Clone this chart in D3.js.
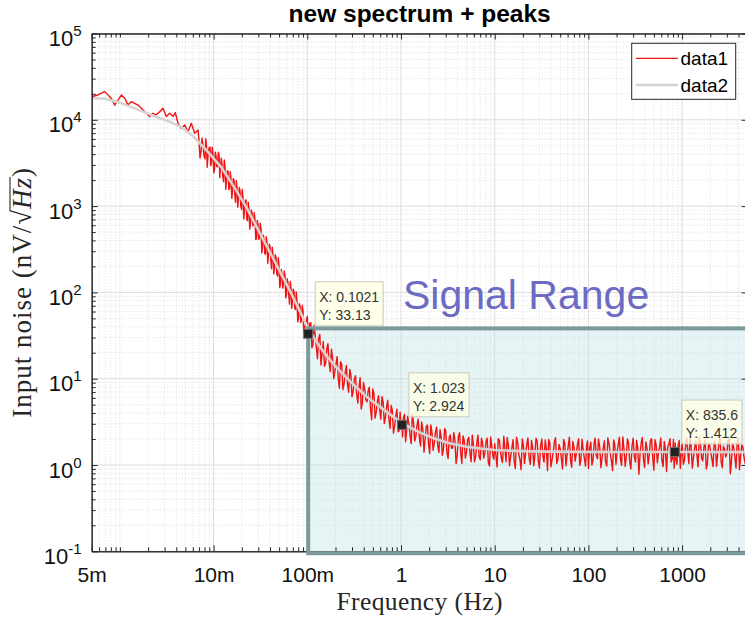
<!DOCTYPE html>
<html><head><meta charset="utf-8">
<script src="https://cdn.jsdelivr.net/npm/d3@7"></script>
<style>body{margin:0;background:#fff;}svg{display:block;}</style>
</head><body>
<svg id="chart" width="745" height="618"></svg>
<script>
// ---------------- data ----------------
const titleText = 'new spectrum + peaks';
const xLabelText = 'Frequency (Hz)';
const xDomain = [0.0005, 5000];
const yDomain = [0.1, 100000];
const xTickValues = [0.0005, 0.01, 0.1, 1, 10, 100, 1000];
const xTickLabels = ['5m', '10m', '100m', '1', '10', '100', '1000'];
const yTickValues = [0.1, 1, 10, 100, 1000, 10000, 100000];
const yTickExponents = ['-1', '0', '1', '2', '3', '4', '5'];
const legendLabels = ['data1', 'data2'];

// data2: smooth fitted spectrum
const data2Freq = [0.0005, 0.0007, 0.001, 0.0015, 0.002, 0.0025, 0.0033, 0.0045, 0.006, 0.008, 0.012, 0.016, 0.022, 0.03, 0.045, 0.0665, 0.085, 0.1, 0.111, 0.125, 0.14, 0.16, 0.188, 0.22, 0.286, 0.436, 0.658, 1, 1.5, 2.2, 3.2, 5, 7, 10, 15, 25, 40, 80, 200, 1000, 5000];
const data2Val = [17900, 17500, 15800, 13300, 11800, 10700, 9600, 8300, 6500, 4700, 2850, 1760, 1000, 528, 227, 100, 58, 40, 33, 27, 22.5, 18.5, 15, 12.5, 9.3, 6.1, 4.35, 3.1, 2.45, 2.05, 1.8, 1.63, 1.55, 1.49, 1.46, 1.44, 1.43, 1.42, 1.415, 1.412, 1.41];

// data1: measured noisy spectrum, [frequency, value]
const data1Low = [[0.0005,18500],[0.00058,19400],[0.00069,21200],[0.00081,17700],[0.00088,14800],[0.00104,19400],[0.00113,17700],[0.00122,14800],[0.00132,16200],[0.00144,15500],[0.00156,14800],[0.00177,13000],[0.00191,11900],[0.00208,10900],[0.00225,11900],[0.00244,11400],[0.00266,12400],[0.00288,13600],[0.00313,10900],[0.0034,11900],[0.00369,10900],[0.0039,12100],[0.00417,9110],[0.00452,7970],[0.00492,8710],[0.00533,7280],[0.00578,9110],[0.00628,6980],[0.00682,7620]];
const data1Slope = [[0.00698,5830],[0.00734,4236],[0.00771,5105],[0.0081,3516],[0.0084,5036],[0.00871,3811],[0.00916,4842],[0.0095,3289],[0.00986,3811],[0.01023,2655],[0.01062,3811],[0.01102,2877],[0.01143,3909],[0.01186,2780],[0.0123,3050],[0.01276,1918],[0.01324,2825],[0.01374,2080],[0.01426,2545],[0.01479,1596],[0.01535,2005],[0.01592,1476],[0.01652,2005],[0.01714,1104],[0.01778,1625],[0.01845,1265],[0.01914,1504],[0.01986,918],[0.02061,1219],[0.02138,897],[0.02218,1180],[0.02301,676],[0.02388,887],[0.02477,646],[0.0257,845],[0.02667,601],[0.02767,689],[0.02871,416],[0.02979,607],[0.0309,430],[0.03206,548],[0.03327,341],[0.03451,412],[0.03581,277],[0.03715,384],[0.03855,279],[0.04,337],[0.0415,188],[0.04305,268],[0.04467,195],[0.04634,255],[0.04808,155],[0.04989,202],[0.05176,125],[0.0537,165],[0.05572,126],[0.05781,157],[0.05998,94.8],[0.06223,128],[0.06457,73.1],[0.06699,112],[0.0695,82.1],[0.07211,102],[0.07482,63.2],[0.07762,78.5],[0.08054,50.1],[0.08356,71.1],[0.0867,49.1],[0.08995,62.7],[0.09333,37.9]];
const data1SlopeMid = [[0.00716,3610],[0.00752,6150],[0.0079,3810],[0.00825,6030],[0.00855,2820],[0.00893,4710],[0.00933,2940],[0.00968,4810],[0.01005,2430],[0.01042,4210],[0.01081,2860],[0.01122,4210],[0.01164,2130],[0.01208,3600],[0.01253,2200],[0.013,3420],[0.01349,1560],[0.014,2560],[0.01452,1560],[0.01507,2500],[0.01563,1230],[0.01622,2080],[0.01683,1370],[0.01746,1970],[0.01811,973],[0.01879,1640],[0.0195,1000],[0.02023,1560],[0.02099,710],[0.02178,1160],[0.0226,703],[0.02344,1110],[0.02432,541],[0.02523,904],[0.02618,591],[0.02716,839],[0.02818,410],[0.02924,683],[0.03034,412],[0.03148,635],[0.03266,286],[0.03388,464],[0.03516,281],[0.03648,443],[0.03784,216],[0.03926,361],[0.04074,236],[0.04227,335],[0.04385,164],[0.0455,273],[0.04721,165],[0.04898,253],[0.05082,114],[0.05272,185],[0.0547,112],[0.05675,177],[0.05888,86.3],[0.06109,144],[0.06339,94.3],[0.06577,134],[0.06823,65.3],[0.07079,109],[0.07345,65.8],[0.07621,101],[0.07907,45.6],[0.08204,74],[0.08511,44.7],[0.08831,70.5],[0.09162,34.5]];
const data1Knee = [[0.1,52.8],[0.1021,33.13],[0.106,43.8],[0.112,22.8],[0.118,41.7],[0.125,22.7],[0.132,29.1],[0.14,14.4],[0.148,26.9],[0.157,15.2],[0.166,25.5],[0.176,12.1],[0.186,17.5],[0.197,12.2],[0.208,18],[0.22,7.75],[0.233,14.6],[0.247,8.69],[0.261,14.2],[0.276,6.96],[0.292,10.9],[0.309,7.15],[0.327,10.8],[0.346,5.23],[0.366,10.3],[0.387,5.29],[0.41,7.59],[0.434,5.39],[0.459,7.96],[0.486,3.35],[0.514,6.77],[0.544,4.12],[0.576,6.35],[0.609,3.39],[0.645,5.35],[0.682,3.59],[0.722,5.62],[0.764,2.66],[0.808,4.27],[0.855,2.82],[0.905,4.44],[0.957,2.5],
 [1,2.6],[1.023,2.924],[1.06,3.54],[1.12,1.86],[1.18,3.67],[1.25,2.18],[1.32,3.83],[1.4,1.89],[1.48,2.84],[1.57,2.06],[1.66,3.16],[1.76,1.41],[1.86,2.78],[1.97,1.71],[2.08,2.91],[2.2,1.48],[2.33,2.41],[2.47,1.64],[2.61,2.57],[2.76,1.29],[2.92,2.64],[3.09,1.4],[3.27,2.09],[3.46,1.56],[3.66,2.38],[3.87,1.04],[4.1,2.16],[4.34,1.36],[4.59,2.17],[4.86,1.2],[5.14,1.96],[5.44,1.37],[5.76,2.22],[6.09,1.09],[6.45,1.82],[6.82,1.24],[7.22,2.04],[7.64,1.2],[8.08,1.87],[8.55,1.06],[9.05,2.11],[9.57,1.26]];
const data1KneeMid = [[0.104,28.5],[0.109,44.6],[0.115,24.8],[0.1215,31.7],[0.1285,17],[0.136,32.6],[0.144,19.9],[0.1525,13.9],[0.1615,22.3],[0.171,15.2],[0.181,22],[0.1915,10],[0.2025,15.1],[0.214,10.1],[0.2265,15.7],[0.24,7.49],[0.254,11.9],[0.2685,8.78],[0.284,12.8],[0.3,6.2],[0.318,10],[0.336,6.72],[0.356,7.84],[0.376,4.45],[0.398,9.02],[0.422,5.67],[0.446,7.19],[0.472,4.57],[0.5,7.63],[0.529,3.49],[0.56,5.47],[0.592,4.36],[0.627,6.21],[0.663,3.03],[0.702,4.75],[0.743,3.4],[0.786,4.89],[0.831,2.34],[0.88,3.72],[0.931,2.43],[0.978,4.1],
 [1.04,2.12],[1.09,3.84],[1.15,2.57],[1.215,2.99],[1.285,1.77],[1.36,3.12],[1.44,2.13],[1.525,3.4],[1.615,1.66],[1.71,2.58],[1.81,2.03],[1.915,2.91],[2.025,1.36],[2.14,2.39],[2.265,1.79],[2.4,2.75],[2.54,1.4],[2.685,2.1],[2.84,1.54],[3,2.5],[3.18,1.19],[3.36,2.23],[3.56,1.58],[3.76,1.95],[3.98,1.29],[4.22,2.37],[4.46,1.04],[4.72,1.95],[5,1.42],[5.29,2.1],[5.6,1.09],[5.92,1.72],[6.27,1.26],[6.63,2.22],[7.02,1.15],[7.43,1.79],[7.86,1.38],[8.31,2.04],[8.8,0.97],[9.31,1.66],[9.78,1.17]];
const data1Flat = [[10,1.76],[10.6,0.95],[11.2,1.94],[11.8,1.18],[12.5,2.15],[13.2,1.09],[14,1.69],[14.8,1.26],[15.7,1.97],[16.6,0.91],[17.6,1.82],[18.6,1.15],[19.7,2.0],[20.8,1.04],[22,1.73],[23.3,1.2],[24.7,1.92],[26.1,0.98],[27.6,2.04],[29.2,1.11],[30.9,1.68],[32.7,1.26],[34.6,1.95],[36.6,0.86],[38.7,1.82],[41,1.16],[43.4,1.87],[45.9,1.04],[48.6,1.73],[51.4,1.21],[54.4,1.98],[57.6,0.98],[60.9,1.65],[64.5,1.14],[68.2,1.87],[72.2,1.11],[76.4,1.73],[80.8,0.99],[85.5,1.99],[90.5,1.19],[95.7,1.68],
 [100,0.91],[106,1.84],[112,1.13],[118,2.05],[125,1.18],[132,1.63],[140,1.22],[148,1.91],[157,0.97],[166,1.77],[176,1.12],[186,1.95],[197,1.02],[208,1.7],[220,1.17],[233,2.12],[247,0.96],[261,2.01],[276,1.09],[292,1.66],[309,1.25],[327,1.92],[346,0.78],[366,1.8],[387,1.15],[410,1.85],[434,1.03],[459,1.93],[486,1.2],[514,1.97],[544,1.06],[576,1.64],[609,1.13],[645,1.87],[682,0.84],[722,1.73],[764,1.08],[808,1.98],[835.6,1.412],[855,1.19],[905,1.67],[957,0.91],
 [1000,1.83],[1060,1.13],[1120,2.04],[1180,1.04],[1250,1.62],[1320,1.21],[1400,1.9],[1480,0.95],[1570,1.76],[1660,1.11],[1760,1.95],[1860,1.02],[1970,1.69],[2080,1.17],[2200,1.88],[2330,0.96],[2470,1.79],[2610,1.09],[2760,1.65],[2920,1.24],[3090,1.92],[3270,0.79],[3460,1.79],[3660,1.22],[3870,1.85],[4100,0.88],[4340,1.71],[4590,1.2],[4860,1.96],[5000,1.13]];
const data1FlatMid = [[10.3,1.28],[10.9,2.02],[11.5,1.5],[12.1,1.07],[12.8,1.66],[13.6,2.08],[14.4,0.98],[15.2,1.55],[16.1,1.12],[17.1,2.1],[18.1,1.32],[19.1,0.88],[20.2,1.71],[21.4,1.38],[22.6,2.06],[24,1.02],[25.4,1.6],[26.8,1.29],[28.4,1.9],[30,0.92],[31.8,2.0],[33.6,1.08],[35.6,1.52],[37.6,1.98],[39.8,0.95],[42.2,1.42],[44.6,2.07],[47.2,1.15],[50,1.55],[52.9,0.9],[56,1.77],[59.2,1.3],[62.7,2.1],[66.3,0.94],[70.2,1.6],[74.3,1.36],[78.6,2.02],[83.1,1.13],[88,1.48],[93.1,0.97],[97.8,1.9],
 [103,1.55],[109,1.0],[115,1.78],[121,1.3],[128,2.0],[136,0.93],[144,1.58],[152,1.1],[161,2.06],[171,1.36],[181,0.86],[191,1.72],[202,1.41],[214,2.1],[226,0.99],[240,1.5],[254,1.28],[268,1.8],[284,0.9],[300,2.04],[318,1.08],[336,1.6],[356,1.35],[376,2.08],[398,0.94],[422,1.56],[446,1.3],[472,2.02],[500,0.87],[529,1.7],[560,1.4],[592,2.06],[627,0.96],[663,1.52],[702,1.62],[743,2.02],[786,1.18],[822,0.92],[845,1.8],[880,1.02],[931,1.92],[978,1.34],
 [1030,1.02],[1090,1.68],[1150,1.4],[1215,2.06],[1285,0.92],[1360,1.56],[1440,1.3],[1525,2.08],[1615,1.2],[1710,1.62],[1810,0.9],[1915,1.8],[2025,1.38],[2140,0.96],[2265,1.74],[2400,1.33],[2540,2.06],[2685,0.93],[2840,1.52],[3000,1.36],[3180,2.0],[3360,1.1],[3560,1.58],[3760,0.92],[3980,2.04],[4220,1.3],[4460,1.6],[4720,1.04],[4930,1.7]];

// data tips
const tipFreq = [0.1021, 1.023, 835.6];
const tipVal = [33.13, 2.924, 1.412];

// highlighted signal range (x from, x to, y from, y to)
const signalRangeX = [0.1021, 5000];
const signalRangeY = [0.095, 38.3];
const signalRangeLabel = 'Signal Range';

// ---------------- drawing ----------------
const svg = d3.select('#chart');
const plotLeft = 91.7, plotRight = 747.6, plotTop = 33.5, plotBottom = 551.3;
const x = d3.scaleLog().domain(xDomain).range([plotLeft, plotRight]);
const y = d3.scaleLog().domain(yDomain).range([plotBottom, plotTop]);
const sans = '"Liberation Sans", Arial, Helvetica, sans-serif';
const serif = '"Liberation Serif", "Times New Roman", serif';
const axisColor = '#262626';

function minorTicks(domain, majors) {
  const out = [];
  const e0 = Math.floor(Math.log10(domain[0])), e1 = Math.ceil(Math.log10(domain[1]));
  for (let e = e0; e <= e1; e++) {
    for (let m = 1; m <= 9; m++) {
      const v = m * Math.pow(10, e);
      if (v < domain[0] * 0.9999 || v > domain[1] * 1.0001) continue;
      if (majors.some(t => Math.abs(t - v) / v < 1e-6)) continue;
      out.push(v);
    }
  }
  return out;
}
const xMinor = minorTicks(xDomain, xTickValues);
const yMinor = minorTicks(yDomain, yTickValues);

svg.append('rect').attr('width', 745).attr('height', 618).attr('fill', '#fff');

// grid
const grid = svg.append('g');
grid.selectAll('line.xm').data(xMinor).join('line')
  .attr('x1', d => x(d)).attr('x2', d => x(d)).attr('y1', plotTop).attr('y2', plotBottom)
  .attr('stroke', '#d4d4d4').attr('stroke-width', 0.8).attr('stroke-dasharray', '1,2');
grid.selectAll('line.ym').data(yMinor).join('line')
  .attr('y1', d => y(d)).attr('y2', d => y(d)).attr('x1', plotLeft).attr('x2', plotRight)
  .attr('stroke', '#d4d4d4').attr('stroke-width', 0.8).attr('stroke-dasharray', '1,2');
grid.selectAll('line.xM').data(xTickValues).join('line')
  .attr('x1', d => x(d)).attr('x2', d => x(d)).attr('y1', plotTop).attr('y2', plotBottom)
  .attr('stroke', '#dcdcdc').attr('stroke-width', 1);
grid.selectAll('line.yM').data(yTickValues).join('line')
  .attr('y1', d => y(d)).attr('y2', d => y(d)).attr('x1', plotLeft).attr('x2', plotRight)
  .attr('stroke', '#dcdcdc').attr('stroke-width', 1);

// signal range fill
const rx0 = x(signalRangeX[0]), rx1 = x(signalRangeX[1]);
const ry0 = y(signalRangeY[1]), ry1 = y(signalRangeY[0]);
svg.append('rect').attr('x', rx0).attr('y', ry0).attr('width', rx1 - rx0).attr('height', ry1 - ry0)
  .attr('fill', '#c5e4ea').attr('fill-opacity', 0.42);

// clip
svg.append('clipPath').attr('id', 'clip').append('rect')
  .attr('x', plotLeft).attr('y', plotTop).attr('width', plotRight - plotLeft).attr('height', plotBottom - plotTop);

const data1 = d3.sort(data1Low.concat(data1Slope, data1SlopeMid, data1Knee, data1KneeMid, data1Flat, data1FlatMid), d => d[0]);
const data2 = data2Freq.map((f, i) => [f, data2Val[i]]);
const line = d3.line().x(d => x(d[0])).y(d => y(d[1]));
const plot = svg.append('g').attr('clip-path', 'url(#clip)');
plot.append('path').attr('d', line(data1)).attr('fill', 'none').attr('stroke', '#f01414').attr('stroke-width', 1.4).attr('stroke-linejoin', 'round');
plot.append('path').attr('d', line(data2)).attr('fill', 'none').attr('stroke', '#d8d2d2').attr('stroke-width', 2.6);

// axes
function styleAxis(g) {
  g.attr('color', axisColor).attr('font-family', sans);
  g.select('.domain').attr('stroke-width', 1);
}
svg.append('g').attr('transform', `translate(0,${plotBottom})`)
  .call(d3.axisBottom(x).tickValues(xMinor).tickFormat('').tickSizeInner(-4).tickSizeOuter(0)).call(styleAxis);
const xAxis = svg.append('g').attr('transform', `translate(0,${plotBottom})`)
  .call(d3.axisBottom(x).tickValues(xTickValues).tickFormat((d, i) => xTickLabels[i]).tickSizeInner(-6).tickSizeOuter(0).tickPadding(16))
  .call(styleAxis);
xAxis.selectAll('.tick text').attr('font-size', 21).attr('fill', '#111');
svg.append('g').attr('transform', `translate(0,${plotTop})`)
  .call(d3.axisTop(x).tickValues(xMinor).tickFormat('').tickSizeInner(-4).tickSizeOuter(0)).call(styleAxis);
svg.append('g').attr('transform', `translate(0,${plotTop})`)
  .call(d3.axisTop(x).tickValues(xTickValues).tickFormat('').tickSizeInner(-6).tickSizeOuter(0)).call(styleAxis);
svg.append('g').attr('transform', `translate(${plotLeft},0)`)
  .call(d3.axisLeft(y).tickValues(yMinor).tickFormat('').tickSizeInner(-4).tickSizeOuter(0)).call(styleAxis);
const yAxis = svg.append('g').attr('transform', `translate(${plotLeft},0)`)
  .call(d3.axisLeft(y).tickValues(yTickValues).tickFormat('').tickSizeInner(-6).tickSizeOuter(0).tickPadding(10))
  .call(styleAxis);
yAxis.selectAll('.tick text').each(function (d, i) {
  const t = d3.select(this);
  t.text(null).attr('font-size', 22).attr('fill', '#111').attr('dy', '0.55em');
  t.append('tspan').text('10');
  t.append('tspan').attr('dy', -10).attr('font-size', 15).text(yTickExponents[i]);
});
svg.append('g').attr('transform', `translate(${plotRight},0)`)
  .call(d3.axisRight(y).tickValues(yTickValues).tickFormat('').tickSizeInner(-6).tickSizeOuter(0)).call(styleAxis);

// signal range border
svg.append('rect').attr('x', rx0).attr('y', ry0).attr('width', rx1 - rx0).attr('height', ry1 - ry0)
  .attr('fill', 'none').attr('stroke', '#7c9a9a').attr('stroke-width', 4);

// data tips
tipFreq.forEach((f, i) => {
  const px = x(f), py = y(tipVal[i]);
  const g = svg.append('g').attr('transform', `translate(${px + 7},${py - 52})`);
  const bg = g.append('rect').attr('x', 0).attr('y', 0).attr('height', 44)
    .attr('fill', '#ffffe4').attr('fill-opacity', 0.78).attr('stroke', '#c9c9bc').attr('stroke-width', 1);
  const t1 = g.append('text').attr('x', 4).attr('y', 20).attr('font-family', sans).attr('font-size', 14).attr('fill', '#333').text('X: ' + f);
  const t2 = g.append('text').attr('x', 4).attr('y', 38).attr('font-family', sans).attr('font-size', 14).attr('fill', '#333').text('Y: ' + tipVal[i]);
  const w = Math.max(t1.node().getComputedTextLength(), t2.node().getComputedTextLength()) + 8;
  bg.attr('width', w);
  svg.append('rect').attr('x', px - 4.5).attr('y', py - 4.5).attr('width', 9).attr('height', 9)
    .attr('fill', '#222').attr('stroke', '#6f6f6f').attr('stroke-width', 1);
});

// signal range label
svg.append('text').attr('x', 403).attr('y', 309).attr('font-family', sans).attr('font-size', 41)
  .attr('fill', '#6b6bc4').text(signalRangeLabel);

// title
svg.append('text').attr('x', (plotLeft + plotRight) / 2).attr('y', 22).attr('text-anchor', 'middle')
  .attr('font-family', sans).attr('font-weight', 'bold').attr('font-size', 24.5).attr('fill', '#000').text(titleText);

// x label
svg.append('text').attr('x', (plotLeft + plotRight) / 2).attr('y', 610).attr('text-anchor', 'middle')
  .attr('font-family', serif).attr('font-size', 25.5).attr('letter-spacing', 0.4).attr('fill', '#262626').text(xLabelText);

// y label with sqrt
const ylg = svg.append('g').attr('transform', `translate(31,${(plotTop + plotBottom) / 2}) rotate(-90)`);
const yl = ylg.append('text').attr('text-anchor', 'middle').attr('font-family', serif).attr('font-size', 27)
  .attr('letter-spacing', 1).attr('fill', '#262626');
yl.append('tspan').text('Input noise (nV/');
yl.append('tspan').text('\u221A');
yl.append('tspan').attr('font-style', 'italic').text('Hz');
yl.append('tspan').text(')');
{
  const n = yl.node();
  const idxRad = 'Input noise (nV/'.length;
  const eR = n.getExtentOfChar(idxRad);
  const eZ = n.getExtentOfChar(idxRad + 2);
  ylg.append('line').attr('x1', eR.x + eR.width - 1.5).attr('x2', eZ.x + eZ.width)
    .attr('y1', -21).attr('y2', -21).attr('stroke', '#262626').attr('stroke-width', 1.1);
}

// legend
const lg = svg.append('g');
lg.append('rect').attr('x', 631.7).attr('y', 43.3).attr('width', 104).attr('height', 56)
  .attr('fill', '#fff').attr('stroke', axisColor).attr('stroke-width', 1);
const legendStyles = [{ c: '#f01414', w: 1.2 }, { c: '#d2d2d2', w: 2.6 }];
legendLabels.forEach((lab, i) => {
  const ly = 58.3 + i * 26.7;
  lg.append('line').attr('x1', 636).attr('x2', 678).attr('y1', ly).attr('y2', ly)
    .attr('stroke', legendStyles[i].c).attr('stroke-width', legendStyles[i].w);
  lg.append('text').attr('x', 680.5).attr('y', ly + 7).attr('font-family', sans).attr('font-size', 19)
    .attr('fill', '#000').text(lab);
});
</script>
</body></html>
